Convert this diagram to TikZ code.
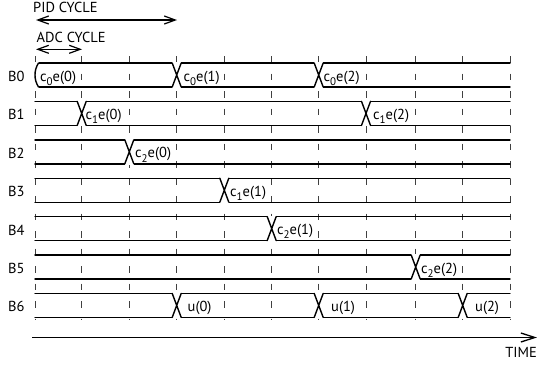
\documentclass[tikz,border=0pt]{standalone}
\usepackage{fontspec}
\setmainfont{PT Sans}
\usetikzlibrary{arrows.meta}
\newcommand\lblfont{\fontsize{14.5}{17}\selectfont}
\newcommand\sbs[1]{\raisebox{-0.6ex}{\fontsize{11}{12}\selectfont #1}}
\begin{document}
\begin{tikzpicture}[x=1pt,y=-1pt,
  bus/.style={line width=1.4pt, line cap=round, line join=round},
  gridline/.style={line width=0.9pt, draw=black!75, dash pattern=on 6.5pt off 11pt},
  lbl/.style={font=\lblfont, inner sep=0pt, anchor=base west},
  dim/.style={line width=1.2pt, {Straight Barb[length=11pt,width=8pt]}-{Straight Barb[length=11pt,width=8pt]}}]
\useasboundingbox (0,0) rectangle (537,367);
% vertical grid
\foreach \g in {35,81.7,129.3,176.7,224.3,271.7,318.7,366,415.7,462.7,510}
  \draw[gridline] (\g,56) -- (\g,320);
% bus rows
\foreach \c/\xs in {75/{176.7,318.7}, 113.4/{81.7,366}, 151.8/{129.3}, 190.2/{224.3}, 228.6/{271.7}, 267/{415.7}, 305.4/{176.7,318.7,462.7}} {
  \draw[bus] (35,\c-12) -- (510,\c-12) (35,\c+12) -- (510,\c+12);
  \foreach \x in \xs {
    \fill[white] (\x-4.5,\c-13) rectangle (\x+4.5,\c+13);
    \draw[bus] (\x-4.5,\c-12) -- (\x+4.5,\c+12) (\x-4.5,\c+12) -- (\x+4.5,\c-12);
  }
}
% B0 start bracket
\fill[white] (33,61.5) rectangle (38.5,88.5);
\draw[bus] (38.5,63) .. controls (36,67) and (35,71) .. (35,75) .. controls (35,79) and (36,83) .. (38.5,87);
% row labels
\node[lbl] (b0) at (8,81.5) {B0};
\node[lbl] (b1) at (8,119.9) {B1};
\node[lbl] (b2) at (8,158.3) {B2};
\node[lbl] (b3) at (8,196.7) {B3};
\node[lbl] (b4) at (8,235.1) {B4};
\node[lbl] (b5) at (8,273.5) {B5};
\node[lbl] (b6) at (8,311.9) {B6};
% bus labels
\node[lbl] (l00) at (40,81) {c\sbs{0}e(0)};
\node[lbl] (l01) at (183.5,81) {c\sbs{0}e(1)};
\node[lbl] (l02) at (323.5,81) {c\sbs{0}e(2)};
\node[lbl] (l10) at (85.5,119.4) {c\sbs{1}e(0)};
\node[lbl] (l12) at (373,119.4) {c\sbs{1}e(2)};
\node[lbl] (l20) at (135,157.8) {c\sbs{2}e(0)};
\node[lbl] (l11) at (230,196.2) {c\sbs{1}e(1)};
\node[lbl] (l21) at (277,234.6) {c\sbs{2}e(1)};
\node[lbl] (l22) at (421,273) {c\sbs{2}e(2)};
\node[lbl] (u0) at (187.5,311.4) {u(0)};
\node[lbl] (u1) at (331,311.4) {u(1)};
\node[lbl] (u2) at (475,311.4) {u(2)};
% cycle arrows
\node[lbl] (pid) at (33,12) {PID CYCLE};
\coordinate (pa) at (36,20);
\coordinate (pb) at (177,20);
\draw[dim] (pa) -- (pb);
\node[lbl] (adc) at (36.5,42.7) {ADC CYCLE};
\coordinate (aa) at (36,49.3);
\coordinate (ab) at (82,49.3);
\draw[dim] (aa) -- (ab);
% time axis
\coordinate (ta) at (32,337.5);
\coordinate (tb) at (537,337.5);
\draw[line width=1.3pt, -{Straight Barb[length=14pt,width=9pt]}] (ta) -- (tb);
\node[lbl, anchor=base east] (time) at (537,357) {TIME};
\end{tikzpicture}
\end{document}
